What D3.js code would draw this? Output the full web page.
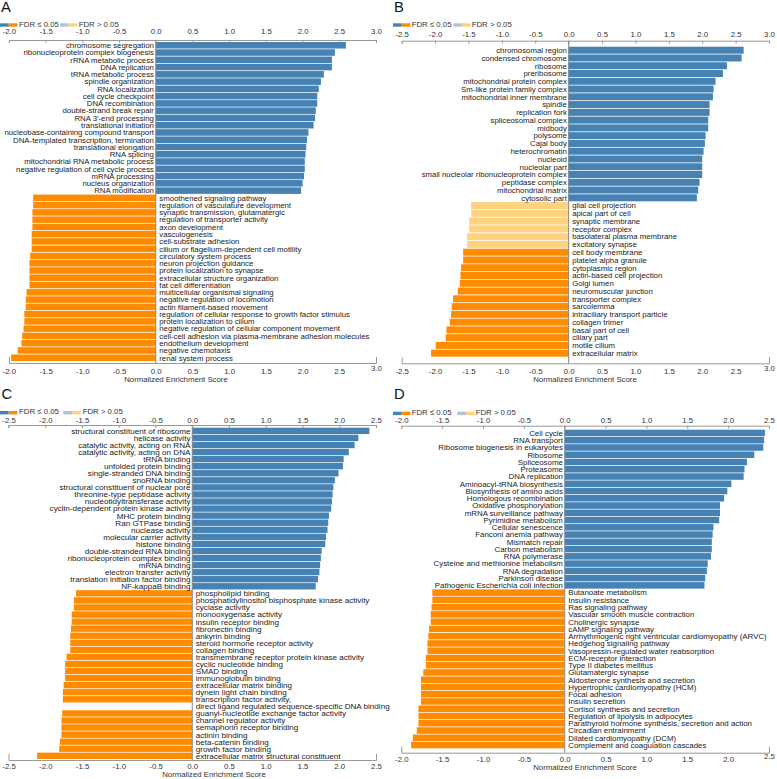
<!DOCTYPE html>
<html>
<head>
<meta charset="utf-8">
<script src="https://cdn.jsdelivr.net/npm/d3@7"></script>
<style>
  body { margin: 0; background: #fff; }
  svg text { font-family: "Liberation Sans", Arial, sans-serif; }
</style>
</head>
<body>
<div id="chart"></div>
<script>
// --- DATA: normalized enrichment scores ---

// A: biological process
const aUpTerms = ["chromosome segregation", "ribonucleoprotein complex biogenesis", "rRNA metabolic process",
  "DNA replication", "tRNA metabolic process", "spindle organization", "RNA localization",
  "cell cycle checkpoint", "DNA recombination", "double-strand break repair", "RNA 3'-end processing",
  "translational initiation", "nucleobase-containing compound transport",
  "DNA-templated transcription, termination", "translational elongation", "RNA splicing",
  "mitochondrial RNA metabolic process", "negative regulation of cell cycle process",
  "mRNA processing", "nucleus organization", "RNA modification"];
const aUpNES = [2.59, 2.44, 2.40, 2.40, 2.29, 2.25, 2.22, 2.20, 2.20, 2.18, 2.17, 2.15, 2.08, 2.06,
  2.05, 2.04, 2.03, 2.03, 2.02, 2.00, 1.98];
const aDownTerms = ["smoothened signaling pathway", "regulation of vasculature development",
  "synaptic transmission, glutamatergic", "regulation of transporter activity", "axon development",
  "vasculogenesis", "cell-substrate adhesion", "cilium or flagellum-dependent cell motility",
  "circulatory system process", "neuron projection guidance", "protein localization to synapse",
  "extracellular structure organization", "fat cell differentiation", "multicellular organismal signaling",
  "negative regulation of locomotion", "actin filament-based movement",
  "regulation of cellular response to growth factor stimulus", "protein localization to cilium",
  "negative regulation of cellular component movement",
  "cell-cell adhesion via plasma-membrane adhesion molecules", "endothelium development",
  "negative chemotaxis", "renal system process"];
const aDownNES = [-1.67, -1.67, -1.68, -1.68, -1.68, -1.69, -1.69, -1.69, -1.71, -1.72, -1.72, -1.72,
  -1.72, -1.76, -1.77, -1.77, -1.79, -1.79, -1.80, -1.82, -1.83, -1.88, -1.97];

// B: cellular component
const bUpTerms = ["chromosomal region", "condensed chromosome", "ribosome", "preribosome",
  "mitochondrial protein complex", "Sm-like protein family complex", "mitochondrial inner membrane",
  "spindle", "replication fork", "spliceosomal complex", "midbody", "polysome", "Cajal body",
  "heterochromatin", "nucleoid", "nucleolar part", "small nucleolar ribonucleoprotein complex",
  "peptidase complex", "mitochondrial matrix", "cytosolic part"];
const bUpNES = [2.62, 2.59, 2.37, 2.31, 2.20, 2.17, 2.16, 2.11, 2.11, 2.09, 2.09, 2.05, 2.04, 2.02,
  2.00, 2.00, 2.00, 1.96, 1.94, 1.92];
const bDownTerms = ["glial cell projection", "apical part of cell", "synaptic membrane", "receptor complex",
  "basolateral plasma membrane", "excitatory synapse", "cell body membrane", "platelet alpha granule",
  "cytoplasmic region", "actin-based cell projection", "Golgi lumen", "neuromuscular junction",
  "transporter complex", "sarcolemma", "intraciliary transport particle", "collagen trimer",
  "basal part of cell", "ciliary part", "motile cilium", "extracellular matrix"];
const bDownNES = [-1.46, -1.46, -1.49, -1.49, -1.52, -1.52, -1.58, -1.58, -1.61, -1.62, -1.63, -1.66,
  -1.73, -1.75, -1.76, -1.78, -1.83, -1.84, -1.99, -2.06];
const bDownSig = [false, false, false, false, false, false, true, true, true, true, true, true,
  true, true, true, true, true, true, true, true];

// C: molecular function (one long term wraps onto an empty row)
const cUpTerms = ["structural constituent of ribosome", "helicase activity", "catalytic activity, acting on RNA",
  "catalytic activity, acting on DNA", "tRNA binding", "unfolded protein binding",
  "single-stranded DNA binding", "snoRNA binding", "structural constituent of nuclear pore",
  "threonine-type peptidase activity", "nucleotidyltransferase activity",
  "cyclin-dependent protein kinase activity", "MHC protein binding", "Ran GTPase binding",
  "nuclease activity", "molecular carrier activity", "histone binding", "double-stranded RNA binding",
  "ribonucleoprotein complex binding", "mRNA binding", "electron transfer activity",
  "translation initiation factor binding", "NF-kappaB binding"];
const cUpNES = [2.41, 2.26, 2.21, 2.13, 2.06, 2.05, 1.99, 1.94, 1.92, 1.91, 1.90, 1.89, 1.86, 1.85,
  1.84, 1.82, 1.81, 1.76, 1.75, 1.74, 1.73, 1.71, 1.68];
const cDownTerms = ["phospholipid binding", "phosphatidylinositol bisphosphate kinase activity",
  "cyclase activity", "monooxygenase activity", "insulin receptor binding", "fibronectin binding",
  "ankyrin binding", "steroid hormone receptor activity", "collagen binding",
  "transmembrane receptor protein kinase activity", "cyclic nucleotide binding", "SMAD binding",
  "immunoglobulin binding", "extracellular matrix binding", "dynein light chain binding",
  "transcription factor activity,", "direct ligand regulated sequence-specific DNA binding",
  "guanyl-nucleotide exchange factor activity", "channel regulator activity",
  "semaphorin receptor binding", "actinin binding", "beta-catenin binding", "growth factor binding",
  "extracellular matrix structural constituent"];
const cDownNES = [-1.58, -1.61, -1.61, -1.64, -1.64, -1.65, -1.66, -1.66, -1.66, -1.71, -1.73, -1.73,
  -1.73, -1.75, -1.76, -1.76, null, -1.77, -1.78, -1.78, -1.78, -1.80, -1.81, -2.11];

// D: KEGG pathways
const dUpTerms = ["Cell cycle", "RNA transport", "Ribosome biogenesis in eukaryotes", "Ribosome",
  "Spliceosome", "Proteasome", "DNA replication", "Aminoacyl-tRNA biosynthesis",
  "Biosynthesis of amino acids", "Homologous recombination", "Oxidative phosphorylation",
  "mRNA surveillance pathway", "Pyrimidine metabolism", "Cellular senescence", "Fanconi anemia pathway",
  "Mismatch repair", "Carbon metabolism", "RNA polymerase", "Cysteine and methionine metabolism",
  "RNA degradation", "Parkinson disease", "Pathogenic Escherichia coli infection"];
const dUpNES = [2.45, 2.44, 2.43, 2.32, 2.23, 2.20, 2.19, 2.04, 1.99, 1.95, 1.90, 1.90, 1.89, 1.82,
  1.81, 1.80, 1.80, 1.79, 1.75, 1.74, 1.72, 1.71];
const dDownTerms = ["Butanoate metabolism", "Insulin resistance", "Ras signaling pathway",
  "Vascular smooth muscle contraction", "Cholinergic synapse", "cAMP signaling pathway",
  "Arrhythmogenic right ventricular cardiomyopathy (ARVC)", "Hedgehog signaling pathway",
  "Vasopressin-regulated water reabsorption", "ECM-receptor interaction", "Type II diabetes mellitus",
  "Glutamatergic synapse", "Aldosterone synthesis and secretion", "Hypertrophic cardiomyopathy (HCM)",
  "Focal adhesion", "Insulin secretion", "Cortisol synthesis and secretion",
  "Regulation of lipolysis in adipocytes", "Parathyroid hormone synthesis, secretion and action",
  "Circadian entrainment", "Dilated cardiomyopathy (DCM)", "Complement and coagulation cascades"];
const dDownNES = [-1.62, -1.62, -1.63, -1.64, -1.64, -1.66, -1.67, -1.68, -1.68, -1.70, -1.70, -1.73,
  -1.76, -1.76, -1.76, -1.76, -1.79, -1.79, -1.79, -1.81, -1.86, -1.88];

const legendLabels = ["FDR \u2264 0.05", "FDR > 0.05"];
const axisTitle = "Normalized Enrichment Score";

// --- STYLE ---
const BLUE = "#4682b4", ORANGE = "#ff8c00", LIGHT_BLUE = "#b0c4de", LIGHT_ORANGE = "#ffd280";
const FS = 7.8;
const AXIS_COLOR = "#999";

const svg = d3.select("#chart").append("svg")
  .attr("width", 777)
  .attr("height", 779);

const fmt = d => d.toFixed(1);

function drawPanel(p) {
  const g = svg.append("g");
  const terms = p.upTerms.concat(p.downTerms);
  const values = p.upNES.concat(p.downNES);
  const sig = p.upTerms.map(() => true).concat(p.downSig || p.downTerms.map(() => true));

  const x = d3.scaleLinear().domain(p.domain).range([p.x0, p.x1]);
  const y = d3.scaleBand().domain(d3.range(terms.length))
    .range([p.barTop, p.barBottom]).paddingInner(0.1).paddingOuter(0);
  const ticks = d3.range(p.domain[0], p.domain[1] + 0.001, 0.5);

  // panel letter
  g.append("text").attr("x", p.letterX).attr("y", p.letterY)
    .attr("font-size", 14.8).attr("fill", "#111").text(p.letter);

  // legend
  const lg = g.append("g");
  const sw = 8.7, sh = 3.4;
  lg.append("rect").attr("x", p.legX).attr("y", p.legY).attr("width", sw).attr("height", sh).attr("fill", BLUE);
  lg.append("rect").attr("x", p.legX + sw).attr("y", p.legY).attr("width", sw).attr("height", sh).attr("fill", ORANGE);
  lg.append("text").attr("x", p.legT1).attr("y", p.legY + sh).attr("font-size", FS).attr("fill", "#333").text(legendLabels[0]);
  lg.append("rect").attr("x", p.legX2).attr("y", p.legY).attr("width", sw).attr("height", sh).attr("fill", LIGHT_BLUE);
  lg.append("rect").attr("x", p.legX2 + sw).attr("y", p.legY).attr("width", sw).attr("height", sh).attr("fill", LIGHT_ORANGE);
  lg.append("text").attr("x", p.legT2).attr("y", p.legY + sh).attr("font-size", FS).attr("fill", "#333").text(legendLabels[1]);

  // bars
  const rows = terms.map((t, i) => ({ i, t, v: values[i], sig: sig[i] }));
  g.append("g").selectAll("rect")
    .data(rows.filter(d => d.v !== null))
    .join("rect")
    .attr("x", d => Math.min(x(0), x(d.v)))
    .attr("y", d => y(d.i))
    .attr("width", d => Math.abs(x(d.v) - x(0)))
    .attr("height", y.bandwidth())
    .attr("fill", d => d.v > 0 ? (d.sig ? BLUE : LIGHT_BLUE) : (d.sig ? ORANGE : LIGHT_ORANGE));

  // term labels: positive on the left of zero, negative on the right
  g.append("g").selectAll("text")
    .data(rows)
    .join("text")
    .attr("x", d => (d.v !== null && d.v > 0) ? x(0) - 1.8 : x(0) + 3.5)
    .attr("y", d => y(d.i) + y.bandwidth() / 2)
    .attr("dy", "0.36em")
    .attr("text-anchor", d => (d.v !== null && d.v > 0) ? "end" : "start")
    .attr("font-size", p.labelFS)
    .attr("fill", "#222")
    .text(d => d.t);

  // zero line
  g.append("line")
    .attr("x1", x(0)).attr("x2", x(0))
    .attr("y1", p.axisTop).attr("y2", p.axisBottom)
    .attr("stroke", "#888").attr("stroke-width", 1);

  // top axis
  const top = g.append("g").attr("transform", `translate(0,${p.axisTop})`)
    .call(d3.axisTop(x).tickValues(ticks).tickFormat(fmt).tickSize(-3).tickPadding(p.topPad));
  // bottom axis
  const bot = g.append("g").attr("transform", `translate(0,${p.axisBottom})`)
    .call(d3.axisBottom(x).tickValues(ticks).tickFormat(fmt)
      .tickSizeInner(0).tickSizeOuter(-6).tickPadding(p.botPad));
  [top, bot].forEach(a => {
    a.select(".domain").attr("stroke", AXIS_COLOR);
    a.selectAll(".tick line").attr("stroke", AXIS_COLOR);
    a.selectAll(".tick text").attr("font-size", FS).attr("fill", "#333")
      .attr("font-family", "'Liberation Sans', Arial, sans-serif");
  });
  if (p.liftLast) {
    bot.selectAll(".tick text").filter((d, i, n) => i === n.length - 1).attr("y", p.botPad - 3);
  }

  g.append("text")
    .attr("x", p.titleX).attr("y", p.axisBottom + p.titleOff)
    .attr("text-anchor", "middle").attr("font-size", FS).attr("fill", "#333")
    .text(axisTitle);
}

drawPanel({
  letter: "A", letterX: 1, letterY: 12,
  legX: 0, legY: 23.3, legT1: 19, legX2: 60, legT2: 78.7,
  upTerms: aUpTerms, upNES: aUpNES, downTerms: aDownTerms, downNES: aDownNES,
  domain: [-2, 3], x0: 8.9, x1: 376,
  axisTop: 40, barTop: 42, barBottom: 361, axisBottom: 363,
  topPad: 5.7, botPad: 5.5, titleX: 176, titleOff: 18.7, liftLast: true, labelFS: 7.8
});
drawPanel({
  letter: "B", letterX: 394, letterY: 12,
  legX: 393, legY: 23.3, legT1: 411.7, legX2: 453.3, legT2: 471.7,
  upTerms: bUpTerms, upNES: bUpNES, downTerms: bDownTerms, downNES: bDownNES, downSig: bDownSig,
  domain: [-2.5, 3], x0: 401.7, x1: 769,
  axisTop: 40.7, barTop: 46.7, barBottom: 356.7, axisBottom: 363.3,
  topPad: 4, botPad: 5, titleX: 585, titleOff: 18.4, liftLast: true, labelFS: 7.8
});
drawPanel({
  letter: "C", letterX: 1.5, letterY: 399,
  legX: 0, legY: 411, legT1: 19, legX2: 63.3, legT2: 82.7,
  upTerms: cUpTerms, upNES: cUpNES, downTerms: cDownTerms, downNES: cDownNES,
  domain: [-2.5, 2.5], x0: 8.5, x1: 376,
  axisTop: 425, barTop: 427.7, barBottom: 759, axisBottom: 760,
  topPad: 2.3, botPad: 3.8, titleX: 214, titleOff: 16.7, liftLast: false, labelFS: 8.1
});
drawPanel({
  letter: "D", letterX: 394, letterY: 399,
  legX: 393, legY: 411.7, legT1: 411.7, legX2: 457.3, legT2: 475.7,
  upTerms: dUpTerms, upNES: dUpNES, downTerms: dDownTerms, downNES: dDownNES,
  domain: [-2, 2.5], x0: 401.3, x1: 769,
  axisTop: 425.7, barTop: 429.7, barBottom: 748.3, axisBottom: 752.7,
  topPad: 2.4, botPad: 3.8, titleX: 585, titleOff: 17, liftLast: true, labelFS: 7.9
});
</script>
</body>
</html>
